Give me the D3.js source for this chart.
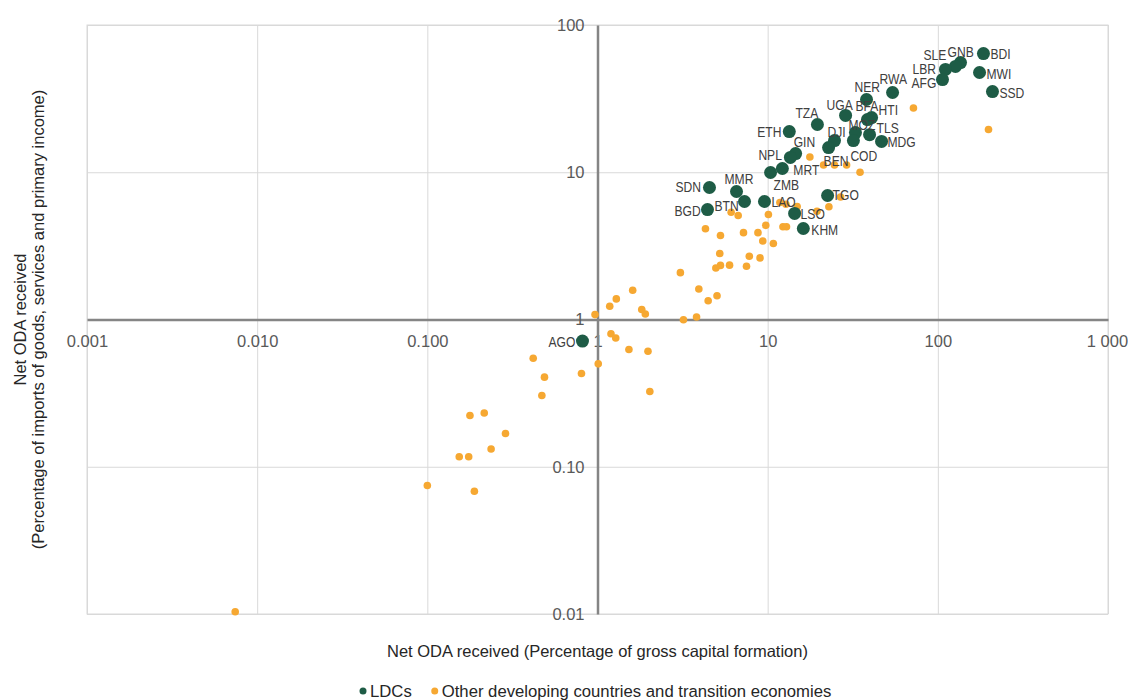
<!DOCTYPE html>
<html>
<head>
<meta charset="utf-8">
<script src="https://cdn.jsdelivr.net/npm/d3@7"></script>
<style>
  body { margin: 0; background: #fff; }
  svg text { font-family: "Liberation Sans", Arial, sans-serif; }
</style>
</head>
<body>
<svg id="chart"></svg>
<script>
// LDCs: code, % of gross capital formation, % of imports
const ldcCodes = ["BDI","MWI","SSD","GNB","SLE","LBR","AFG","RWA","NER","HTI","BFA","UGA","TZA","ETH","DJI","MOZ","TLS","MDG","GIN","COD","BEN","NPL","MRT","ZMB","SDN","MMR","BTN","LAO","BGD","TGO","LSO","KHM","AGO"];
const ldcGcf = [185.4,175.8,209.5,135.9,127.0,110.9,106.5,54.2,38.1,40.8,38.6,28.7,19.6,13.4,24.7,32.8,39.7,46.7,14.6,31.9,22.8,13.6,12.2,10.4,4.55,6.56,7.31,9.58,4.43,22.5,14.4,16.2,0.816];
const ldcImports = [64.0,47.6,35.3,55.6,52.3,49.9,42.6,34.8,31.2,23.5,22.8,24.3,21.1,18.9,16.4,18.6,18.0,16.2,13.4,16.4,14.7,12.6,10.6,9.96,7.88,7.40,6.33,6.33,5.58,6.95,5.25,4.15,0.714];

// Other developing countries and transition economies
const otherGcf = [71.9,198.5,17.7,21.3,24.7,29.1,34.9,26.8,22.9,19.5,14.9,12.8,11.8,10.1,9.75,12.3,12.9,10.8,9.36,8.77,7.21,9.02,7.80,7.51,5.28,4.31,6.10,6.71,5.23,5.28,4.96,5.97,3.07,3.94,4.47,5.04,3.82,3.20,1.61,1.29,1.18,1.82,1.91,0.967,1.20,1.28,1.53,1.98,1.01,0.805,0.419,0.488,0.471,2.03,0.178,0.216,0.288,0.237,0.154,0.175,0.100,0.189,0.00743];
const otherImports = [27.3,19.5,12.7,11.2,11.2,11.2,10.0,6.79,5.83,5.44,5.85,6.07,6.23,5.17,4.36,4.26,4.26,3.28,3.41,3.89,3.89,2.62,2.69,2.30,3.72,4.13,5.35,5.09,2.81,2.33,2.24,2.34,2.08,1.61,1.34,1.45,1.04,0.997,1.58,1.38,1.23,1.17,1.09,1.08,0.800,0.748,0.626,0.609,0.500,0.430,0.546,0.406,0.305,0.324,0.223,0.232,0.168,0.132,0.117,0.117,0.0746,0.0682,0.01035];

const xTicks = [0.001, 0.01, 0.1, 1, 10, 100, 1000];
const xTickLabels = ["0.001", "0.010", "0.100", "1", "10", "100", "1 000"];
const yTicks = [0.01, 0.1, 1, 10, 100];
const yTickLabels = ["0.01", "0.10", "1", "10", "100"];

const legendNames = ["LDCs", "Other developing countries and transition economies"];

// where each country label sits relative to its dot
const labelOffset = {
  BDI:[7,0], MWI:[7,1], SSD:[7,1], GNB:[-13,-11], SLE:[-32,-12], LBR:[-33,-1], AFG:[-31,3],
  RWA:[-13,-14], NER:[-12,-13], HTI:[7,-8], BFA:[-12,-14], UGA:[-19,-11], TZA:[-22,-12],
  ETH:[-32,0], DJI:[-7,-9], MOZ:[-7,-8], TLS:[7,-7], MDG:[6,0], GIN:[-2,-12], COD:[-3,15],
  BEN:[-5,13], NPL:[-32,-3], MRT:[11,1], ZMB:[3,12], SDN:[-34,-1], MMR:[-12,-13], BTN:[-30,4],
  LAO:[7,0], BGD:[-33,1], TGO:[5,-1], LSO:[6,0], KHM:[8,1], AGO:[-34,1]
};

const width = 1128, height = 700;
const plotLeft = 87, plotRight = 1108, plotTop = 25, plotBottom = 614;
const green = "#1e5c46", orange = "#f6a832";

// squeeze text horizontally to look like a condensed face
function condense(sel, k) {
  sel.each(function () {
    const len = this.getComputedTextLength();
    d3.select(this).attr("textLength", len * k).attr("lengthAdjust", "spacingAndGlyphs");
  });
}

const svg = d3.select("#chart").attr("width", width).attr("height", height);

const x = d3.scaleLog().domain([0.001, 1000]).range([plotLeft, plotRight]);
const y = d3.scaleLog().domain([0.01, 100]).range([plotBottom, plotTop]);

// grid
svg.append("g")
  .attr("transform", `translate(0,${plotBottom})`)
  .call(d3.axisBottom(x).tickValues(xTicks).tickSize(-(plotBottom - plotTop)).tickFormat(""))
  .call(g => g.select(".domain").remove())
  .call(g => g.selectAll("line").attr("stroke", "#d9d9d9"));
svg.append("g")
  .attr("transform", `translate(${plotLeft},0)`)
  .call(d3.axisLeft(y).tickValues(yTicks).tickSize(-(plotRight - plotLeft)).tickFormat(""))
  .call(g => g.select(".domain").remove())
  .call(g => g.selectAll("line").attr("stroke", "#d9d9d9"));

svg.append("rect")
  .attr("x", plotLeft).attr("y", plotTop)
  .attr("width", plotRight - plotLeft).attr("height", plotBottom - plotTop)
  .attr("fill", "none").attr("stroke", "#d9d9d9");

// axes crossing at 1,1
const xAxis = svg.append("g")
  .attr("transform", `translate(0,${y(1)})`)
  .call(d3.axisBottom(x).tickValues(xTicks).tickSize(0).tickPadding(16)
    .tickFormat((d, i) => xTickLabels[i]));
xAxis.select(".domain").attr("stroke", "#858585").attr("stroke-width", 2.5);
xAxis.selectAll("text").attr("font-size", 16.5).attr("fill", "#595959")
  .attr("font-family", "Liberation Sans, Arial, sans-serif");
xAxis.selectAll(".tick:last-of-type text").attr("dx", -1);

const yAxis = svg.append("g")
  .attr("transform", `translate(${x(1)},0)`)
  .call(d3.axisLeft(y).tickValues(yTicks).tickSize(0).tickPadding(13)
    .tickFormat((d, i) => yTickLabels[i]));
yAxis.select(".domain").attr("stroke", "#858585").attr("stroke-width", 2.5);
yAxis.selectAll("text").attr("font-size", 16.5).attr("fill", "#595959")
  .attr("font-family", "Liberation Sans, Arial, sans-serif");

// points
svg.append("g").selectAll("circle")
  .data(otherGcf.map((v, i) => ({ gcf: v, imp: otherImports[i] })))
  .join("circle")
  .attr("cx", d => x(d.gcf))
  .attr("cy", d => y(d.imp))
  .attr("r", 3.8)
  .attr("fill", orange);

const ldc = ldcCodes.map((c, i) => ({ code: c, gcf: ldcGcf[i], imp: ldcImports[i] }));

svg.append("g").selectAll("circle")
  .data(ldc)
  .join("circle")
  .attr("cx", d => x(d.gcf))
  .attr("cy", d => y(d.imp))
  .attr("r", 6.5)
  .attr("fill", green);

svg.append("g").selectAll("text")
  .data(ldc)
  .join("text")
  .attr("x", d => x(d.gcf) + labelOffset[d.code][0])
  .attr("y", d => y(d.imp) + labelOffset[d.code][1])
  .attr("dy", "0.35em")
  .attr("font-size", 15.5)
  .attr("fill", "#404040")
  .text(d => d.code)
  .call(condense, 0.78);

// axis titles
svg.append("text")
  .attr("x", x(1)).attr("y", 657)
  .attr("text-anchor", "middle")
  .attr("font-size", 16.5).attr("fill", "#262626")
  .text("Net ODA received (Percentage of gross capital formation)");

const yTitle = svg.append("text")
  .attr("transform", `translate(26,${y(1)}) rotate(-90)`)
  .attr("text-anchor", "middle")
  .attr("font-size", 16.5).attr("fill", "#262626");
yTitle.append("tspan").attr("x", 0).attr("dy", 0).text("Net ODA received");
yTitle.append("tspan").attr("x", 0).attr("dy", 18).text("(Percentage of imports of goods, services and primary income)");

// legend
const legend = svg.append("g").attr("transform", "translate(363,691)");
const legendColors = [green, orange];
let lx = 0;
legendNames.forEach((name, i) => {
  legend.append("circle").attr("cx", lx).attr("cy", 0).attr("r", 3.5).attr("fill", legendColors[i]);
  const t = legend.append("text")
    .attr("x", lx + 7).attr("y", 0).attr("dy", "0.35em")
    .attr("font-size", 16.7).attr("fill", "#262626")
    .text(name);
  lx += 7 + t.node().getComputedTextLength() + 23;
});
</script>
</body>
</html>
